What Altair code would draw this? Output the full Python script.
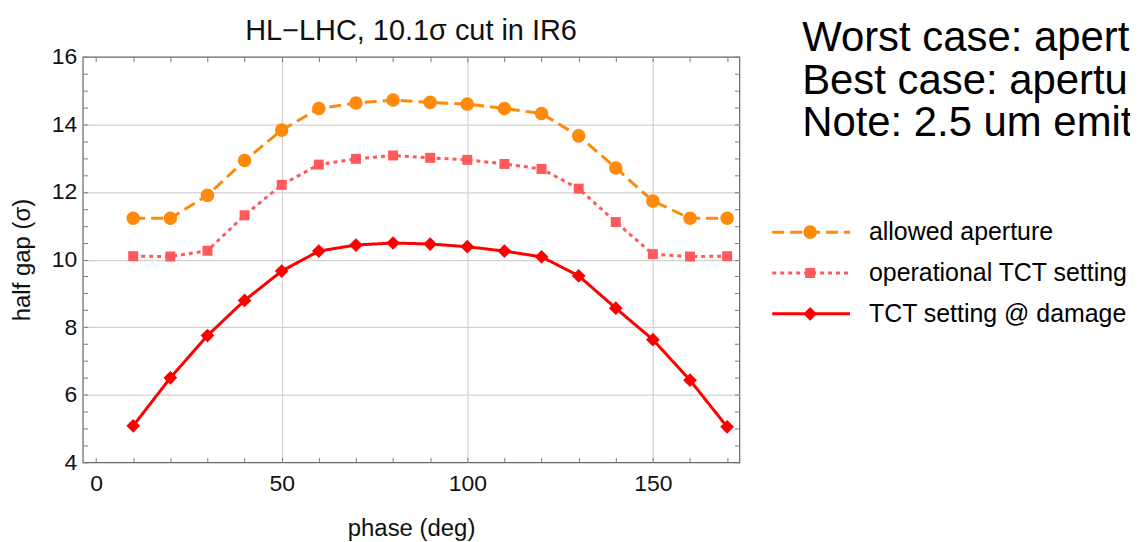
import altair as alt
import pandas as pd

# ---------------- data ----------------
phase = [10, 20, 30, 40, 50, 60, 70, 80, 90, 100, 110, 120, 130, 140, 150, 160, 170]
allowed_aperture = [11.22, 11.22, 11.90, 12.93, 13.83, 14.47, 14.63, 14.72, 14.65, 14.60,
                    14.47, 14.32, 13.66, 12.71, 11.73, 11.22, 11.22]
operational_tct = [10.10, 10.09, 10.26, 11.31, 12.21, 12.81, 12.98, 13.08, 13.01, 12.95,
                   12.83, 12.68, 12.10, 11.11, 10.16, 10.09, 10.10]
tct_damage = [5.08, 6.50, 7.75, 8.79, 9.66, 10.25, 10.43, 10.49, 10.46, 10.38,
              10.25, 10.08, 9.52, 8.56, 7.63, 6.43, 5.05]

series_names = ["allowed aperture", "operational TCT setting", "TCT setting @ damage"]
series_colors = ["#FF8A0A", "#FF5A5A", "#FF0000"]
series_shapes = ["circle", "square", "diamond"]
series_sizes = [185, 100, 190]
series_dashes = [[12, 6], [4, 4], [1, 0]]

x_major = [0, 50, 100, 150]
x_grid = [50, 100, 150]
x_minor = [0, 10, 20, 30, 40, 50, 60, 70, 80, 90, 100, 110, 120, 130, 140, 150, 160, 170]
y_major = [4, 6, 8, 10, 12, 14, 16]
y_grid = [6, 8, 10, 12, 14]
y_minor = [4 + 0.5 * i for i in range(25)]

title_text = "HL\u2212LHC, 10.1\u03c3 cut in IR6"
x_title = "phase (deg)"
y_title = "half gap (\u03c3)"
side_lines = ["Worst case: apert", "Best case: apertur", "Note: 2.5 um emit"]

# ---------------- tables ----------------
rows = []
for name, vals in zip(series_names, [allowed_aperture, operational_tct, tct_damage]):
    for p, v in zip(phase, vals):
        rows.append({"phase": p, "gap": v, "series": name})
df = pd.DataFrame(rows)
legend_df = pd.DataFrame({"series": series_names})

FONT = "Liberation Sans"
W, H = 659, 407

x_scale = alt.Scale(domain=[-3.6, 173.3], nice=False, zero=False)
y_scale = alt.Scale(domain=[4, 16], nice=False, zero=False)
color_scale = alt.Scale(domain=series_names, range=series_colors)
shape_scale = alt.Scale(domain=series_names, range=series_shapes)
size_scale = alt.Scale(type="ordinal", domain=series_names, range=series_sizes)
dash_scale = alt.Scale(domain=series_names, range=series_dashes)

color_enc = alt.Color("series:N", scale=color_scale, legend=None)
dash_enc = alt.StrokeDash("series:N", scale=dash_scale, legend=None)
shape_enc = alt.Shape("series:N", scale=shape_scale, legend=None)
size_enc = alt.Size("series:N", scale=size_scale, legend=None)

base = alt.Chart(df)

# lines with the labelled axes
lines = base.mark_line(strokeWidth=3).encode(
    x=alt.X("phase:Q", scale=x_scale, axis=alt.Axis(
        orient="bottom", values=x_major, grid=False, ticks=False, tickSize=0, domain=False,
        labelFontSize=23, labelPadding=10, labelFlush=False, title=x_title,
        titleFontSize=24, titlePadding=21)),
    y=alt.Y("gap:Q", scale=y_scale, axis=alt.Axis(
        orient="left", values=y_major, grid=False, ticks=False, tickSize=0, domain=False,
        labelFontSize=23, labelPadding=6, labelFlush=False, title=y_title,
        titleFontSize=24, titlePadding=17)),
    color=color_enc,
    strokeDash=dash_enc,
)

# markers with grid-only axes
points = base.mark_point(filled=True, opacity=1).encode(
    x=alt.X("phase:Q", scale=x_scale, axis=alt.Axis(
        orient="bottom", values=x_grid, grid=True, ticks=False, labels=False,
        domain=False, title=None, gridColor="#d2d2d2", gridWidth=1.2)),
    y=alt.Y("gap:Q", scale=y_scale, axis=alt.Axis(
        orient="left", values=y_grid, grid=True, ticks=False, labels=False,
        domain=False, title=None, gridColor="#d2d2d2", gridWidth=1.2)),
    color=color_enc,
    shape=shape_enc,
    size=size_enc,
)


def tick_layer(xo, yo):
    return base.mark_point(opacity=0).encode(
        x=alt.X("phase:Q", scale=x_scale, axis=alt.Axis(
            orient=xo, values=x_minor, offset=-5, tickSize=5, ticks=True, labels=False,
            domain=False, grid=False, title=None, tickColor="#7a7a7a", tickWidth=1)),
        y=alt.Y("gap:Q", scale=y_scale, axis=alt.Axis(
            orient=yo, values=y_minor, offset=-5, tickSize=5, ticks=True, labels=False,
            domain=False, grid=False, title=None, tickColor="#7a7a7a", tickWidth=1)),
    )


main = alt.layer(points, lines, tick_layer("bottom", "left"), tick_layer("top", "right")).resolve_axis(
    x="independent", y="independent")

# custom legend (line sample + marker + label)
legend_y = alt.Y("series:N", scale=alt.Scale(type="point", domain=series_names,
                                             range=[176, 258], padding=0), axis=None)
leg_base = alt.Chart(legend_df)
leg_rule = leg_base.mark_rule(strokeWidth=3).encode(
    x=alt.value(692), x2=alt.value(770), y=legend_y, color=color_enc, strokeDash=dash_enc)
leg_pts = leg_base.mark_point(filled=True, opacity=1).encode(
    x=alt.value(730), y=legend_y, color=color_enc, shape=shape_enc, size=size_enc)
leg_txt = leg_base.mark_text(align="left", baseline="middle", fontSize=25, font=FONT,
                             color="black").encode(
    x=alt.value(789), y=legend_y, text="series:N")

side = alt.Chart(alt.Data(values=[{}])).mark_text(
    text=side_lines, align="left", baseline="alphabetic", fontSize=42, lineHeight=43,
    font=FONT, color="black").encode(x=alt.value(722), y=alt.value(-6))

title = alt.Chart(alt.Data(values=[{}])).mark_text(
    text=title_text, align="center", baseline="alphabetic", fontSize=29,
    font=FONT, color="#111111").encode(x=alt.value(W / 2), y=alt.value(-17))

chart = alt.layer(main, leg_rule, leg_pts, leg_txt, side, title).resolve_scale(
    y="independent").properties(
    width=W, height=H,
    autosize=alt.AutoSizeParams(type="none"),
    padding={"left": 75, "top": 48, "right": 392, "bottom": 79},
).configure_view(stroke="#666666", strokeWidth=1.2).configure_axis(
    labelFont=FONT, titleFont=FONT, labelColor="#111111", titleColor="#111111",
    titleFontWeight="normal",
)

chart.save("out.html", embed_options={"renderer": "svg", "actions": False})
